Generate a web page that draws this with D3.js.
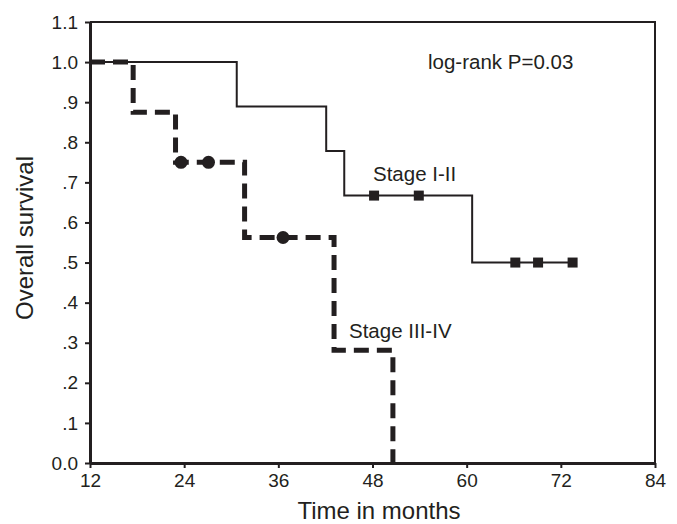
<!DOCTYPE html>
<html>
<head>
<meta charset="utf-8">
<script src="https://cdn.jsdelivr.net/npm/d3@7"></script>
<style>
  body { margin: 0; background: #fff; }
  text { font-family: "Liberation Sans", Arial, sans-serif; fill: #231f20; }
</style>
</head>
<body>
<div id="root"></div>
<script>
// step curves: [month, survival]
var stage12Steps = [[12, 1.0], [30.7, 0.889], [42.1, 0.778], [44.4, 0.667], [60.7, 0.5], [73.5, 0.5]];
var stage12Censors = [[48.2, 0.667], [53.9, 0.667], [66.2, 0.5], [69.1, 0.5], [73.5, 0.5]];
var stage34Steps = [[12, 1.0], [17.5, 0.875], [22.9, 0.75], [31.7, 0.5625], [43.1, 0.28125], [50.6, 0]];
var stage34Censors = [[23.6, 0.75], [27.1, 0.75], [36.6, 0.5625]];
var xTicks = [12, 24, 36, 48, 60, 72, 84];
var yTicks = [0, 0.1, 0.2, 0.3, 0.4, 0.5, 0.6, 0.7, 0.8, 0.9, 1.0, 1.1];
var yTickLabels = ['0.0', '.1', '.2', '.3', '.4', '.5', '.6', '.7', '.8', '.9', '1.0', '1.1'];

var W = 677, H = 524;
var ink = '#231f20';

var svg = d3.select('#root')
  .append('svg')
    .attr('width', W)
    .attr('height', H);

var x = d3.scaleLinear().domain([12, 84]).range([90, 655]);
var y = d3.scaleLinear().domain([0, 1.1]).range([463, 22]);

// frame top / right
svg.append('path')
  .attr('d', 'M' + x(12) + ',' + y(1.1) + 'H' + x(84) + 'V' + y(0))
  .attr('fill', 'none')
  .attr('stroke', ink)
  .attr('stroke-width', 2);

var xAxis = svg.append('g')
  .attr('transform', 'translate(0,' + y(0) + ')')
  .call(d3.axisBottom(x).tickValues(xTicks).tickSize(5).tickPadding(6).tickSizeOuter(0));

var yAxis = svg.append('g')
  .attr('transform', 'translate(' + x(12) + ',0)')
  .call(d3.axisLeft(y).tickValues(yTicks).tickSize(5).tickPadding(7).tickSizeOuter(0)
    .tickFormat((d, i) => yTickLabels[i]));

[xAxis, yAxis].forEach(g => {
  g.select('.domain').attr('stroke', ink).attr('stroke-width', 3);
  g.selectAll('.tick line').attr('stroke', ink).attr('stroke-width', 2);
  g.selectAll('.tick text').attr('font-size', 19).attr('fill', ink)
    .style('font-family', '"Liberation Sans", Arial, sans-serif');
});

var step = d3.line()
  .x(d => x(d[0]))
  .y(d => y(d[1]))
  .curve(d3.curveStepAfter);

svg.append('path')
  .datum(stage34Steps)
  .attr('d', step)
  .attr('fill', 'none')
  .attr('stroke', ink)
  .attr('stroke-width', 5)
  .attr('stroke-dasharray', '15,8');

svg.append('path')
  .datum(stage12Steps)
  .attr('d', step)
  .attr('fill', 'none')
  .attr('stroke', ink)
  .attr('stroke-width', 2);

svg.selectAll('rect.censor')
  .data(stage12Censors)
  .enter()
  .append('rect')
    .attr('class', 'censor')
    .attr('x', d => x(d[0]) - 5)
    .attr('y', d => y(d[1]) - 5)
    .attr('width', 10)
    .attr('height', 10)
    .attr('fill', ink);

svg.selectAll('circle.censor')
  .data(stage34Censors)
  .enter()
  .append('circle')
    .attr('class', 'censor')
    .attr('cx', d => x(d[0]))
    .attr('cy', d => y(d[1]))
    .attr('r', 6.5)
    .attr('fill', ink);

svg.append('text')
  .attr('x', 428)
  .attr('y', 69)
  .attr('font-size', 20.5)
  .text('log-rank P=0.03');

svg.append('text')
  .attr('x', 373)
  .attr('y', 181)
  .attr('font-size', 20.5)
  .text('Stage I-II');

svg.append('text')
  .attr('x', 349)
  .attr('y', 338)
  .attr('font-size', 20.5)
  .text('Stage III-IV');

svg.append('text')
  .attr('x', 379)
  .attr('y', 519)
  .attr('text-anchor', 'middle')
  .attr('font-size', 24)
  .text('Time in months');

svg.append('text')
  .attr('transform', 'translate(33,' + 238 + ') rotate(-90)')
  .attr('text-anchor', 'middle')
  .attr('font-size', 24)
  .text('Overall survival');
</script>
</body>
</html>
